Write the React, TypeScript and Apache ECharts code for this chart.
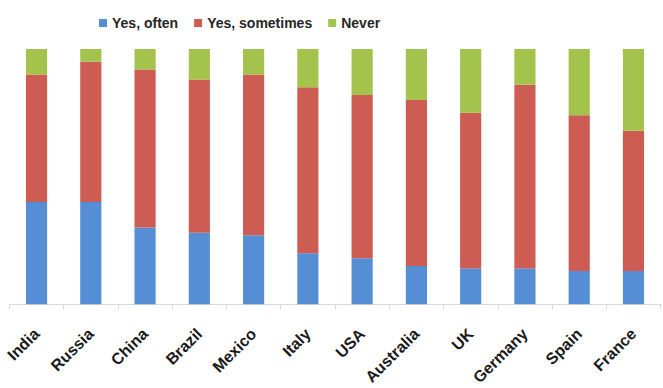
import React, { useEffect, useRef } from "react";
import * as echarts from "echarts";

const categories = ["India", "Russia", "China", "Brazil", "Mexico", "Italy", "USA", "Australia", "UK", "Germany", "Spain", "France"];
const yesOften = [40, 40, 30, 28, 27, 20, 18, 15, 14, 14, 13, 13];
const yesSometimes = [50, 55, 62, 60, 63, 65, 64, 65, 61, 72, 61, 55];
const never = [10, 5, 8, 12, 10, 15, 18, 20, 25, 14, 26, 32];
const seriesNames = ["Yes, often", "Yes, sometimes", "Never"];
const colors = ["#558ed5", "#cd5d53", "#a4c34d"];

export default function App() {
  const ref = useRef<HTMLDivElement>(null);
  useEffect(() => {
    if (!ref.current) return;
    const chart = echarts.init(ref.current, null, { renderer: "svg" });
    const data = [yesOften, yesSometimes, never];
    chart.setOption({
      animation: false,
      backgroundColor: "#ffffff",
      legend: {
        left: 94,
        top: 11,
        icon: "rect",
        itemWidth: 8,
        itemHeight: 8,
        itemGap: 16,
        textStyle: { fontFamily: "Liberation Sans, Arial, sans-serif", fontSize: 14, fontWeight: "bold", color: "#262626" },
        data: seriesNames,
      },
      grid: { left: 9.4, right: 2.4, top: 49, bottom: 82.3, containLabel: false },
      xAxis: {
        type: "category",
        data: categories,
        axisLine: { lineStyle: { color: "#d9d9d9", width: 1 } },
        axisTick: { show: true, length: 5, lineStyle: { color: "#d9d9d9" } },
        axisLabel: {
          rotate: 45,
          margin: 27,
          interval: 0,
          fontFamily: "Liberation Sans, Arial, sans-serif",
          fontSize: 16,
          fontWeight: "bold",
          color: "#1a1a1a",
        },
      },
      yAxis: {
        type: "value",
        min: 0,
        max: 100,
        show: false,
        splitLine: { show: false },
      },
      series: seriesNames.map((name, i) => ({
        name,
        type: "bar",
        stack: "total",
        barWidth: "39%",
        itemStyle: { color: colors[i] },
        data: data[i],
      })),
    });
    return () => chart.dispose();
  }, []);
  return <div ref={ref} style={{ position: "fixed", left: 0, top: 0, width: 663, height: 388 }} />;
}
